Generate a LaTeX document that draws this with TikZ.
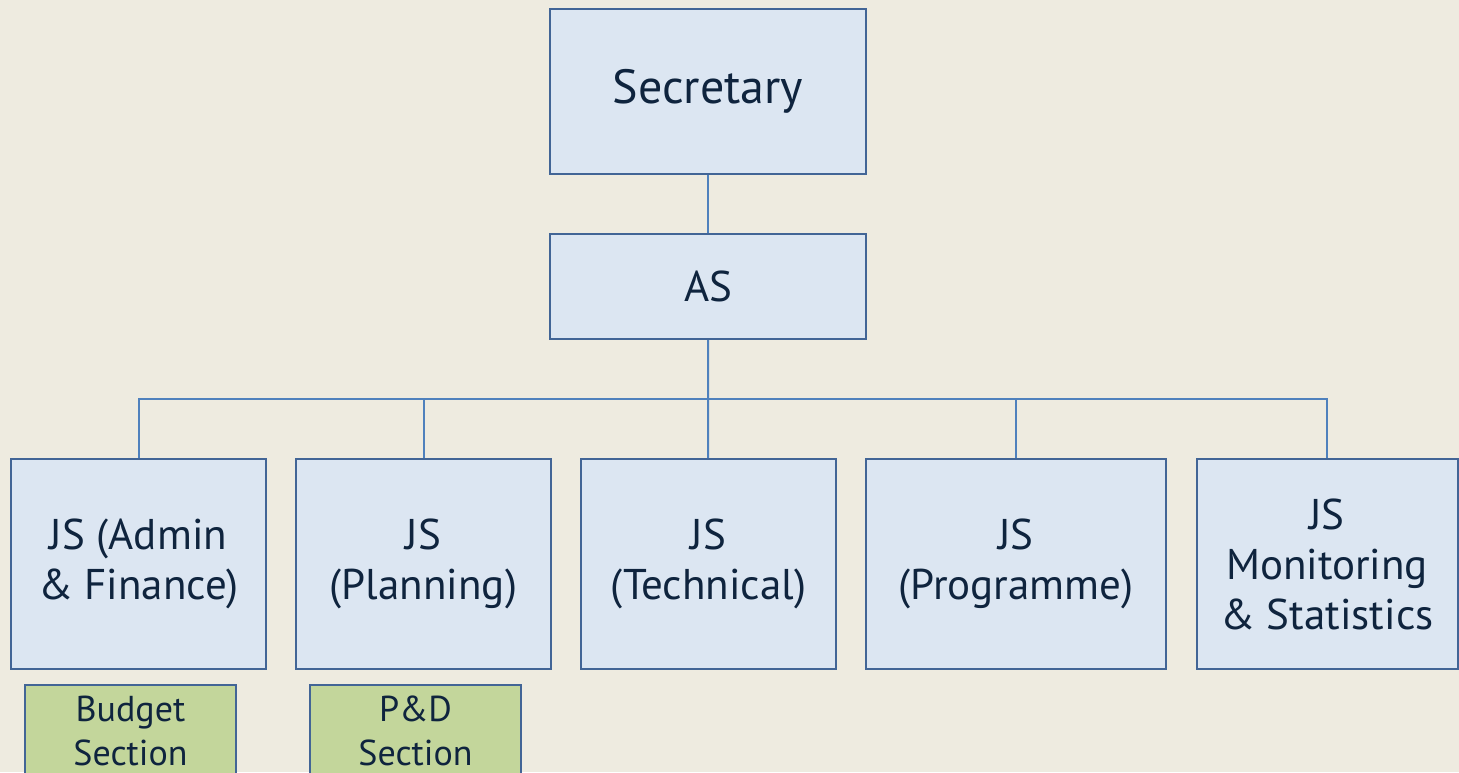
\documentclass[tikz,border=0pt]{standalone}
\usepackage{fontspec}
\setmainfont{PT Sans}
\usetikzlibrary{positioning}

\definecolor{bgcol}{RGB}{238,235,224}
\definecolor{boxfill}{RGB}{220,230,242}
\definecolor{boxline}{RGB}{66,101,150}
\definecolor{linkcol}{RGB}{79,129,189}
\definecolor{secfill}{RGB}{195,214,155}
\definecolor{textcol}{RGB}{15,36,62}

\begin{document}
\begin{tikzpicture}[x=1pt, y=-1pt,
    box/.style={draw=boxline, fill=boxfill, line width=2pt, inner sep=0pt,
        align=center, text=textcol, font=\fontsize{43}{50}\selectfont},
    jsbox/.style={box, minimum height=210pt},
    secbox/.style={box, fill=secfill, minimum width=211pt, minimum height=92pt,
        anchor=north, font=\fontsize{36}{44}\selectfont},
    link/.style={draw=linkcol, line width=2pt}]
    \useasboundingbox (0,0) rectangle (1459,772);
    \fill[bgcol] (0,0) rectangle (1459,772);
    \clip (0,0) rectangle (1459,772);

    % top of the chart
    \node[box, minimum width=316pt, minimum height=165pt, font=\fontsize{48}{56}\selectfont] (sec) at (708,91.5) {Secretary};
    \node[box, minimum width=316pt, minimum height=105pt] (as) at (708,286.5) {AS};
    \coordinate (bus) at (708,399);

    % joint secretaries
    \node[jsbox, minimum width=255pt] (js1) at (138.5,564) {JS (Admin\\ \& Finance)};
    \node[jsbox, minimum width=255pt] (js2) at (423.5,564) {JS\\ (Planning)};
    \node[jsbox, minimum width=255pt] (js3) at (708.5,564) {JS\\ (Technical)};
    \node[jsbox, minimum width=300pt] (js4) at (1016,564) {JS\\ (Programme)};
    \node[jsbox, minimum width=261pt] (js5) at (1327,564) {JS\\ Monitoring\\ \& Statistics};

    % sections
    \node[secbox] (budget) at (130.5,684) {Budget\\ Section};
    \node[secbox] (pd) at (415.5,684) {P\&D\\ Section};

    \draw[link] (sec) -- (as);
    \draw[link] (as) -- (bus) -- (js3);
    \foreach \n in {js1,js2,js4,js5}
        \draw[link] (\n.north) |- (bus);
\end{tikzpicture}
\end{document}
